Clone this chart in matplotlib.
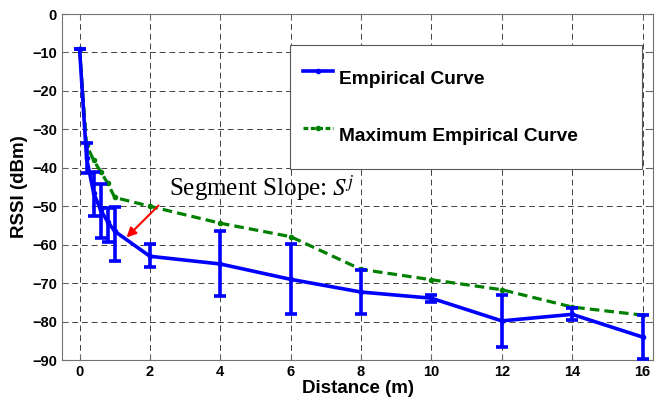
import matplotlib.pyplot as plt
from matplotlib.lines import Line2D
import numpy as np

# distance (m) and RSSI (dBm)
dist = [0, 0.2, 0.4, 0.6, 0.8, 1, 2, 4, 6, 8, 10, 12, 14, 16]
rssi_emp = [-9, -37.5, -46.5, -51, -54, -56.5, -63, -65, -69, -72.3, -73.9, -79.8, -78.1, -84]
rssi_hi = [-9, -33.6, -41.2, -44.3, -50.5, -50.3, -59.8, -56.4, -59.8, -66.5, -73.0, -73.0, -76.4, -78.4]
rssi_lo = [-9, -41.4, -52.5, -58.2, -59.4, -64.2, -65.9, -73.4, -78.1, -78.0, -74.8, -86.7, -79.7, -89.8]

dist_max = [0, 0.2, 0.4, 0.6, 0.8, 1, 2, 4, 6, 8, 10, 12, 14, 16]
rssi_max = [-9, -34, -38, -41, -44, -47.7, -50, -54.4, -57.9, -66.4, -69.1, -71.7, -76.2, -78.3]

xticks = np.arange(0, 17, 2)
yticks = np.arange(-90, 1, 10)

plt.rcParams['font.family'] = ['Liberation Sans', 'DejaVu Sans']
plt.rcParams['mathtext.fontset'] = 'stix'

blue = (0, 0, 1)
green = (0, 0.5, 0)

emp = np.array(rssi_emp)
yerr = [emp - np.array(rssi_lo), np.array(rssi_hi) - emp]

fig = plt.figure(figsize=(6.59, 4.01), dpi=100)
ax = fig.add_axes([0.094, 0.102, 0.897, 0.863])

ax.errorbar(dist, rssi_emp, yerr=yerr, color=blue, lw=2.6, marker='.', ms=6,
            elinewidth=2.6, capsize=4.5, capthick=2.6, zorder=3)
ax.plot(dist_max, rssi_max, color=green, ls='--', dashes=(3, 1.6), lw=2.3,
        marker='.', ms=6, zorder=2)

ax.set_xlim(-0.5, 16.3)
ax.set_ylim(-90, 0)
ax.set_xticks(xticks)
ax.set_yticks(yticks)
ax.grid(True, color='black', ls=(0, (6, 4)), lw=0.7, alpha=0.75)
ax.tick_params(direction='in', top=True, right=True, length=4, color='0.4',
               labelsize=10.5)
for lab in ax.get_xticklabels() + ax.get_yticklabels():
    lab.set_fontweight('bold')
for sp in ax.spines.values():
    sp.set_color('0.45')

ax.set_xlabel('Distance (m)', fontsize=13.5, fontweight='bold', labelpad=1)
ax.set_ylabel('RSSI (dBm)', fontsize=13.5, fontweight='bold', labelpad=3)

ax.text(2.55, -47.3, 'Segment Slope: $S^j$', fontsize=18,
        family='Liberation Serif', va='baseline', ha='left')
ax.annotate('', xy=(1.28, -58.6), xytext=(2.3, -49.3),
            arrowprops=dict(arrowstyle='-|>', color='red', lw=1.5,
                            mutation_scale=14))

handles = [Line2D([], [], color=blue, lw=2.6, marker='.', ms=6),
           Line2D([], [], color=green, ls='--', dashes=(1.5, 0.8), lw=2.3,
                  marker='.', ms=6)]
leg = ax.legend(handles, ['Empirical Curve', 'Maximum Empirical Curve'],
                loc='upper left', bbox_to_anchor=(0.386, 0.561, 0.595, 0.35),
                mode='expand', fancybox=False, edgecolor='0.35', framealpha=1,
                prop={'weight': 'bold', 'size': 13.8}, borderpad=0.65,
                handlelength=1.6, handleheight=3.0, labelspacing=0.8,
                handletextpad=0.3, borderaxespad=0)
leg.get_frame().set_linewidth(0.8)

fig.savefig('out.png', dpi=100)
